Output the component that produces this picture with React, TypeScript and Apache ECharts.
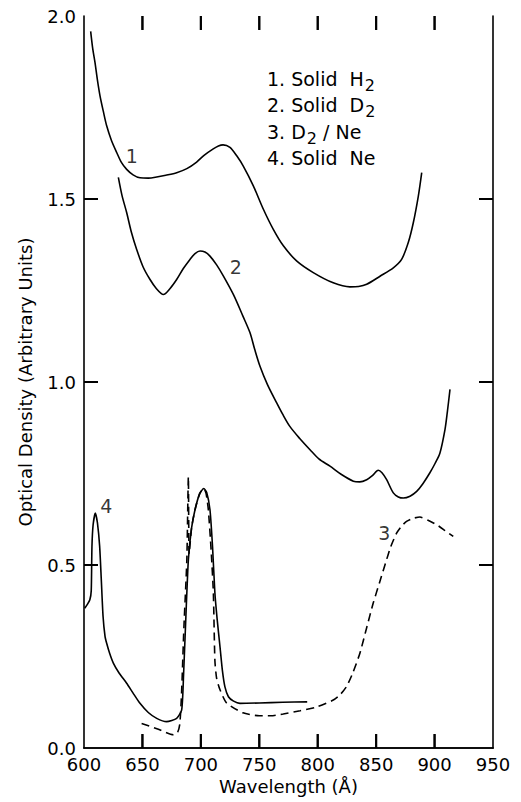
import React, { useEffect, useRef } from 'react';
import * as echarts from 'echarts';

const FONT = 'DejaVu Sans';

const xMin = 600;
const xMax = 950;
const xStep = 50;
const yMin = 0;
const yMax = 2;
const yStep = 0.5;

// inner tick positions (the corner ones coincide with the frame)
const xTickValues = [650, 700, 750, 800, 850, 900];
const yTickValues = [0.5, 1.0, 1.5];

// 1. Solid H2
const solidH2: [number, number][] = [
  [605.7, 1.958], [607.5, 1.91], [609.4, 1.873], [611.5, 1.825], [613.7, 1.782], [616.5, 1.74],
  [619.4, 1.7], [623.5, 1.66], [628, 1.627], [632, 1.6], [636.5, 1.581], [642, 1.566],
  [647.9, 1.558], [655, 1.557], [662.2, 1.56], [670, 1.565], [679.3, 1.572], [688, 1.583],
  [696.4, 1.601], [703, 1.62], [710.6, 1.637], [715, 1.645], [719, 1.648], [724.9, 1.641],
  [730.7, 1.618], [736.3, 1.59], [744.9, 1.536], [753.5, 1.472], [762, 1.417], [770.6, 1.372],
  [781.9, 1.331], [796.2, 1.299], [813.3, 1.271], [827.6, 1.26], [835, 1.261], [841.9, 1.267],
  [853.3, 1.289], [864.7, 1.312], [871.8, 1.335], [877.5, 1.381], [881.8, 1.435], [886.1, 1.508],
  [889, 1.572],
];

// 2. Solid D2
const solidD2: [number, number][] = [
  [629.4, 1.559], [632.5, 1.51], [636.5, 1.463], [640.5, 1.41], [645, 1.363], [650.5, 1.315],
  [656.5, 1.28], [662, 1.255], [667.9, 1.239], [673.5, 1.255], [679.3, 1.28], [685, 1.31],
  [690.7, 1.335], [695, 1.351], [699.3, 1.358], [703.5, 1.355], [707.8, 1.344], [713.5, 1.32],
  [719.2, 1.29], [728, 1.238], [736, 1.18], [742, 1.135], [746, 1.09], [750.6, 1.043],
  [757, 0.993], [764.9, 0.943], [770, 0.912], [776.3, 0.878], [784.8, 0.845], [793.4, 0.815],
  [801, 0.79], [810.5, 0.77], [820, 0.748], [830.5, 0.729], [836, 0.727], [841.9, 0.733],
  [847, 0.745], [851.8, 0.759], [855, 0.752], [859, 0.733], [864.7, 0.697], [869, 0.686],
  [873.3, 0.683], [879, 0.688], [884.7, 0.701], [890, 0.722], [896, 0.752], [900.5, 0.778],
  [904.6, 0.806], [908.9, 0.87], [911, 0.92], [913.2, 0.98],
];

// 3. D2/Ne (dashed)
const d2Ne: [number, number][] = [
  [649.3, 0.067], [663, 0.052], [676.4, 0.036], [680, 0.042], [682, 0.066], [683.5, 0.15],
  [685.5, 0.33], [688, 0.514], [689.3, 0.741], [690, 0.53], [692, 0.6], [695, 0.651],
  [699, 0.695], [702.5, 0.709], [704.5, 0.695], [706.4, 0.651], [708.8, 0.54], [710.7, 0.424],
  [712, 0.24], [713.5, 0.19], [716.4, 0.159], [722, 0.123], [736, 0.096], [750, 0.088],
  [760, 0.088], [770.5, 0.093], [785, 0.102], [799, 0.112], [813.3, 0.131], [819, 0.145],
  [824.7, 0.168], [830, 0.205], [836.1, 0.259], [842, 0.33], [847.5, 0.396], [853, 0.453],
  [858, 0.505], [862.5, 0.55], [867.5, 0.587], [872, 0.607], [876, 0.619], [881, 0.627],
  [887.5, 0.631], [894, 0.623], [901.8, 0.61], [909, 0.594], [916, 0.578],
];

// 4. Solid Ne
const solidNe: [number, number][] = [
  [600.6, 0.382], [603, 0.393], [605, 0.405], [606.2, 0.43], [606.8, 0.55], [607.8, 0.61],
  [609.7, 0.642], [611.5, 0.615], [613.4, 0.551], [614.8, 0.46], [616.3, 0.36], [618, 0.305],
  [619.4, 0.286], [622, 0.258], [625.1, 0.232], [630, 0.205], [636.5, 0.177], [642, 0.15],
  [647.9, 0.122], [655, 0.097], [662.2, 0.081], [670.7, 0.072], [679.3, 0.081], [683.6, 0.104],
  [685.2, 0.2], [687.2, 0.36], [689.3, 0.514], [692, 0.6], [695, 0.651], [699, 0.695],
  [702.5, 0.709], [705, 0.698], [707.8, 0.651], [710, 0.55], [712, 0.424], [714, 0.35],
  [716.4, 0.276], [718.5, 0.21], [720.6, 0.167], [723.6, 0.14], [728, 0.128], [733.5, 0.122],
  [750, 0.123], [770, 0.125], [791, 0.126],
];

const curveLabelNames = ['1', '2', '3', '4'];
const curveLabelX = [641, 730, 857, 619];
const curveLabelY = [1.617, 1.313, 0.587, 0.66];

const legendMain = ['1. Solid  H', '2. Solid  D', '3. D', '4. Solid  Ne'];
const legendSub = ['2', '2', '2', ''];
const legendTail = ['', '', ' / Ne', ''];

const xName = 'Wavelength (Å)';
const yName = 'Optical Density (Arbitrary Units)';

// tick lengths expressed in axis units (about 14 px on this plot)
const TICK_Y_UNITS = 0.038;
const TICK_X_UNITS = 12;
const TICK_PX = 14;
const TICK_W = 2;
const LINE_W = 1.6;

export default function App() {
  const ref = useRef<HTMLDivElement>(null);

  useEffect(() => {
    if (!ref.current) return;
    const chart = echarts.init(ref.current, null, { renderer: 'svg' });

    const axisLine = { show: true, lineStyle: { color: '#000', width: LINE_W } };

    const legendGraphics = legendMain.map((m, i) => {
      let text = `{a|${m}}`;
      if (legendSub[i]) text += `{s|${legendSub[i]}}`;
      if (legendTail[i]) text += `{a|${legendTail[i]}}`;
      return {
        type: 'text',
        left: 267,
        top: 69 + i * 26.5,
        silent: true,
        style: {
          text,
          fill: '#000',
          rich: {
            a: { fontFamily: FONT, fontSize: 19, lineHeight: 20, verticalAlign: 'top', fill: '#000' },
            s: { fontFamily: FONT, fontSize: 16, lineHeight: 18, verticalAlign: 'top', padding: [8, 0, 0, 1], fill: '#000' },
          },
        },
      };
    });

    // ticks as short line series
    const tickSeg = (data: [number, number][]) => ({
      type: 'line', data, showSymbol: false, silent: true, smooth: false,
      lineStyle: { color: '#000', width: TICK_W }, xAxisIndex: 0, yAxisIndex: 0,
    });
    const tickSeries = [
      ...xTickValues.map((v) => tickSeg([[v, yMin], [v, yMin + TICK_Y_UNITS]])),
      ...xTickValues.map((v) => tickSeg([[v, yMax], [v, yMax - TICK_Y_UNITS]])),
      ...yTickValues.map((v) => tickSeg([[xMin, v], [xMin + TICK_X_UNITS, v]])),
      ...yTickValues.map((v) => tickSeg([[xMax, v], [xMax - TICK_X_UNITS, v]])),
    ];

    // ticks also as small filled rectangles (same spots), through the axes' scales
    const rectTicksX = {
      type: 'custom', name: 'xtickrects', xAxisIndex: 0, yAxisIndex: 0, silent: true, clip: false, z: 5,
      data: xTickValues.map((v) => [v, yMin]),
      renderItem: (params: any, api: any) => {
        const x = api.value(0);
        const b = api.coord([x, yMin]);
        const t = api.coord([x, yMax]);
        return {
          type: 'group',
          children: [
            { type: 'rect', shape: { x: b[0] - TICK_W / 2, y: b[1] - TICK_PX, width: TICK_W, height: TICK_PX }, style: { fill: '#000' } },
            { type: 'rect', shape: { x: t[0] - TICK_W / 2, y: t[1], width: TICK_W, height: TICK_PX }, style: { fill: '#000' } },
          ],
        };
      },
    };
    const rectTicksY = {
      type: 'custom', name: 'ytickrects', xAxisIndex: 0, yAxisIndex: 0, silent: true, clip: false, z: 5,
      data: yTickValues.map((v) => [xMin, v]),
      renderItem: (params: any, api: any) => {
        const y = api.value(1);
        const l = api.coord([xMin, y]);
        const r = api.coord([xMax, y]);
        return {
          type: 'group',
          children: [
            { type: 'rect', shape: { x: l[0], y: l[1] - TICK_W / 2, width: TICK_PX, height: TICK_W }, style: { fill: '#000' } },
            { type: 'rect', shape: { x: r[0] - TICK_PX, y: r[1] - TICK_W / 2, width: TICK_PX, height: TICK_W }, style: { fill: '#000' } },
          ],
        };
      },
    };

    chart.setOption({
      animation: false,
      backgroundColor: '#fff',
      grid: { left: 84, right: 28, top: 16, bottom: 54, containLabel: false },
      xAxis: [
        {
          type: 'value', min: xMin, max: xMax, interval: xStep, position: 'bottom',
          axisLine, axisTick: { show: false }, splitLine: { show: false },
          axisLabel: { color: '#000', fontFamily: FONT, fontSize: 18, margin: 7 },
          name: xName, nameLocation: 'middle', nameGap: 25,
          nameTextStyle: { color: '#000', fontFamily: FONT, fontSize: 18 },
        },
        {
          type: 'value', min: xMin, max: xMax, interval: xStep, position: 'top',
          axisLine, axisTick: { show: false }, splitLine: { show: false }, axisLabel: { show: false },
        },
      ],
      yAxis: [
        {
          type: 'value', min: yMin, max: yMax, interval: yStep, position: 'left',
          axisLine, axisTick: { show: false }, splitLine: { show: false },
          axisLabel: { color: '#000', fontFamily: FONT, fontSize: 18, margin: 8, formatter: (v: number) => v.toFixed(1) },
          name: yName, nameLocation: 'middle', nameGap: 50,
          nameTextStyle: { color: '#000', fontFamily: FONT, fontSize: 18 },
        },
        {
          type: 'value', min: yMin, max: yMax, interval: yStep, position: 'right',
          axisLine, axisTick: { show: false }, splitLine: { show: false }, axisLabel: { show: false },
        },
      ],
      series: [
        {
          type: 'line', name: 'Solid H2', data: solidH2, smooth: 0.3, showSymbol: false,
          lineStyle: { color: '#000', width: LINE_W }, xAxisIndex: 0, yAxisIndex: 0,
        },
        {
          type: 'line', name: 'Solid D2', data: solidD2, smooth: 0.3, showSymbol: false,
          lineStyle: { color: '#000', width: LINE_W }, xAxisIndex: 0, yAxisIndex: 0,
        },
        {
          type: 'line', name: 'D2/Ne', data: d2Ne, smooth: 0.2, showSymbol: false,
          lineStyle: { color: '#000', width: LINE_W, type: [8, 5] }, xAxisIndex: 0, yAxisIndex: 0,
        },
        {
          type: 'line', name: 'Solid Ne', data: solidNe, smooth: 0.2, showSymbol: false,
          lineStyle: { color: '#000', width: LINE_W }, xAxisIndex: 0, yAxisIndex: 0,
        },
        ...tickSeries,
        rectTicksX,
        rectTicksY,
        {
          type: 'scatter', name: 'labels', symbolSize: 0, xAxisIndex: 0, yAxisIndex: 0,
          data: curveLabelNames.map((n, i) => ({ name: n, value: [curveLabelX[i], curveLabelY[i]] })),
          label: {
            show: true, position: 'inside', formatter: '{b}', color: '#000',
            fontFamily: FONT, fontSize: 19,
          },
          silent: true,
        },
      ],
      graphic: legendGraphics,
    });

    return () => chart.dispose();
  }, []);

  return (
    <div
      ref={ref}
      style={{ position: 'absolute', left: 0, top: 0, width: 521, height: 802, background: '#fff' }}
    />
  );
}
